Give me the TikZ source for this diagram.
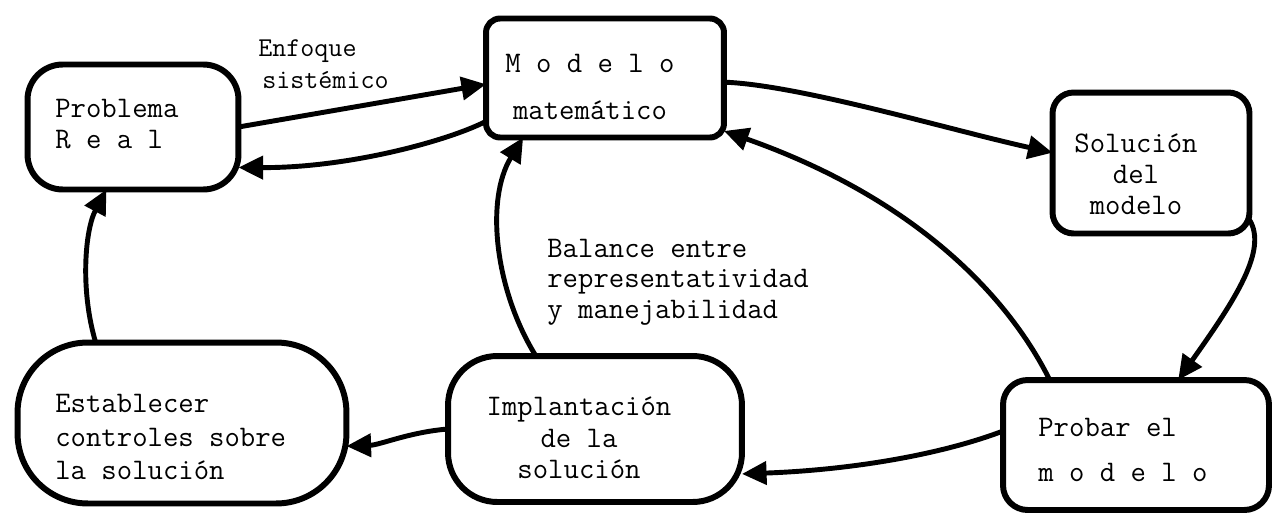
\documentclass[tikz,border=0pt]{standalone}
\usepackage{fontspec}
\usetikzlibrary{arrows.meta}
\begin{document}
\begin{tikzpicture}[x=0.02cm,y=-0.02cm,
  box/.style={draw, line width=3.4pt, inner sep=0pt, outer sep=0pt, line join=round},
  lbl/.style={inner sep=0pt, font=\ttfamily\fontsize{17}{17.6}\selectfont},
  conn/.style={line width=2.8pt, -{Triangle[length=14pt,width=13pt]}, line cap=round}
]
\useasboundingbox (0,0) rectangle (1275,524);

% boxes
\node[box, rounded corners=20pt, minimum width=4.22cm, minimum height=2.50cm] (prob) at (133,127) {};
\node[box, rounded corners=8pt, minimum width=4.76cm, minimum height=2.38cm] (mod) at (605,78) {};
\node[box, rounded corners=12pt, minimum width=3.94cm, minimum height=2.82cm] (sol) at (1151,163) {};
\node[box, rounded corners=40pt, minimum width=6.58cm, minimum height=3.22cm] (est) at (182,423) {};
\node[box, rounded corners=28pt, minimum width=5.88cm, minimum height=2.92cm] (imp) at (595,429) {};
\node[box, rounded corners=14pt, minimum width=5.32cm, minimum height=2.60cm] (prb) at (1136,445) {};

% texts
\node[lbl, align=left, anchor=west, font=\ttfamily\fontsize{17}{18}\selectfont] (probT) at (55,124) {Problema\\R e a l};
\node[lbl, align=center, font=\ttfamily\fontsize{17}{26.6}\selectfont] (modT) at (590,87) {M o d e l o\\matemático};
\node[lbl, align=center] (solT) at (1136,174) {Solución\\del\\modelo};
\node[lbl, align=left, anchor=west, font=\ttfamily\fontsize{17}{19}\selectfont] (estT) at (55,437) {Establecer\\controles sobre\\la solución};
\node[lbl, align=center, font=\ttfamily\fontsize{17}{17.9}\selectfont] (impT) at (579,438) {Implantación\\de la\\solución};
\node[lbl, align=left, anchor=west, font=\ttfamily\fontsize{17}{26}\selectfont] (prbT) at (1038,450) {Probar el\\m o d e l o};
\node[lbl, align=left, anchor=west, font=\ttfamily\fontsize{17}{17.3}\selectfont] (balT) at (547,282) {Balance entre\\representatividad\\y manejabilidad};
\node[lbl, anchor=west, font=\ttfamily\fontsize{15.5}{17}\selectfont] (enfT1) at (258,51) {Enfoque};
\node[lbl, anchor=west, font=\ttfamily\fontsize{15.5}{17}\selectfont] (enfT2) at (262,80) {sistémico};

% connectors
\draw[conn] (prob.east) -- (mod.183);
\draw[conn] (mod.200) .. controls (450,140) and (350,168) .. (prob.-21);
\draw[conn] (mod.-2) .. controls (800,85) and (950,130) .. (sol.174);
\draw[conn] (sol.-30) .. controls (1268,250) and (1235,300) .. (prb.57);
\draw[conn] (prb.143) .. controls (1010,300) and (920,200) .. (mod.-24);
\draw[conn] (prb.174) .. controls (940,455) and (850,470) .. (imp.-17);
\draw[conn] (imp.129) .. controls (495,290) and (485,200) .. (mod.216);
\draw[conn] (imp.west) .. controls (410,432) and (380,445) .. (est.-8);
\draw[conn] (est.137) .. controls (80,290) and (85,230) .. (prob.247);
\end{tikzpicture}
\end{document}
